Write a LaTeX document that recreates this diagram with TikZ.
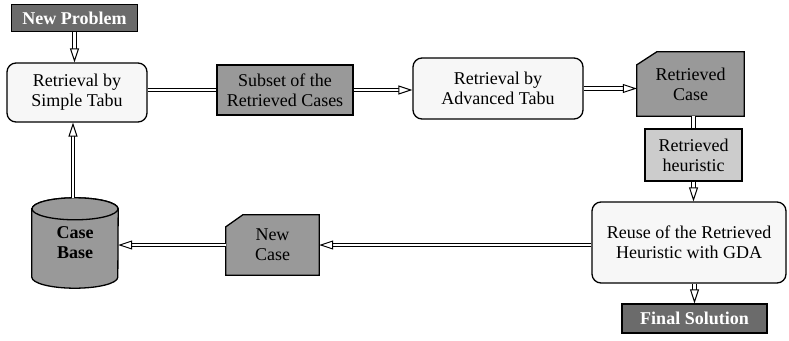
\documentclass[tikz,border=0pt]{standalone}
\usepackage{fontspec}
\setmainfont{Liberation Serif}
\usetikzlibrary{arrows.meta,backgrounds,calc}
\definecolor{darkfill}{gray}{0.42}
\definecolor{midfill}{gray}{0.60}
\definecolor{lightfill}{gray}{0.80}
\definecolor{paleflll}{gray}{0.97}
\tikzset{
  base/.style={draw=black, line width=1.3pt, align=center, inner sep=0pt,
    font=\fontsize{18}{20}\selectfont},
  darkbox/.style={base, fill=darkfill, text=white, font=\fontsize{18}{20}\selectfont\bfseries},
  midbox/.style={base, fill=midfill},
  lightbox/.style={base, fill=lightfill},
  roundbox/.style={base, fill=paleflll, rounded corners=9pt},
  ghost/.style={align=center, inner sep=0pt, font=\fontsize{18}{20}\selectfont},
  cardshape/.style={draw=black, line width=1.3pt, fill=midfill},
  dblarrow/.style={double, double distance=2.2pt, line width=1pt,
    -{Triangle[open, length=14pt, width=9pt, line width=1pt, fill=white]}},
  dblline/.style={double, double distance=2.2pt, line width=1pt},
}
\begin{document}
\begin{tikzpicture}[x=1pt,y=-1pt]
\useasboundingbox (0,0) rectangle (789,340);
% nodes
\node[darkbox, minimum width=126pt, minimum height=27pt] (np) at (74.5,18) {New Problem};
\node[roundbox, minimum width=140pt, minimum height=59pt] (st) at (77,92.5) {Retrieval by\\Simple Tabu};
\node[midbox, minimum width=136pt, minimum height=50pt] (sub) at (285,90) {Subset of the\\Retrieved Cases};
\node[roundbox, minimum width=170pt, minimum height=61pt] (at) at (498,88.5) {Retrieval by\\Advanced Tabu};
\node[ghost, minimum width=107pt, minimum height=64pt] (rc) at (690.5,84) {Retrieved\\Case};
\node[lightbox, minimum width=97pt, minimum height=52pt] (rh) at (693.5,155) {Retrieved\\heuristic};
\node[roundbox, minimum width=194pt, minimum height=81pt] (ru) at (689,242.5) {Reuse of the Retrieved\\Heuristic with GDA};
\node[darkbox, minimum width=145pt, minimum height=29pt] (fs) at (694.5,318.5) {Final Solution};
\node[ghost, minimum width=93pt, minimum height=60pt] (nc) at (272.5,245) {New\\Case};
\node[ghost, minimum width=86pt, minimum height=90pt, font=\fontsize{18}{20}\selectfont\bfseries] (cb) at (75,243) {Case\\Base};
\coordinate (cbtop) at ($(cb.north)+(-2,0)$);
% custom shapes behind text
\begin{scope}[on background layer]
  \filldraw[cardshape] ($(rc.north west)+(20,0)$) -- (rc.north east) -- (rc.south east)
     -- (rc.south west) -- ($(rc.north west)+(0,13)$) -- cycle;
  \filldraw[cardshape] ($(nc.north west)+(17,0)$) -- (nc.north east) -- (nc.south east)
     -- (nc.south west) -- ($(nc.north west)+(0,12)$) -- cycle;
  \filldraw[cardshape] ($(cb.north west)+(0,11)$) -- ($(cb.south west)+(0,-11)$)
     arc[start angle=180, end angle=360, x radius=43pt, y radius=11pt]
     -- ($(cb.north east)+(0,11)$)
     arc[start angle=0, end angle=180, x radius=43pt, y radius=11pt] -- cycle;
  \draw[cardshape] ($(cb.north)+(0,11)$) ellipse[x radius=43pt, y radius=11pt];
\end{scope}
% connectors
\draw[dblarrow] (np.south) -- (np.south |- st.north);
\draw[dblline] (st.east |- sub.west) -- (sub.west);
\draw[dblarrow] (sub.east) -- (sub.east -| at.west);
\draw[dblarrow] (at.east) -- (at.east -| rc.west);
\draw[dblline] (rh.north |- rc.south) -- (rh.north);
\draw[dblarrow] (rh.south) -- (rh.south |- ru.north);
\draw[dblarrow] (ru.south -| fs.north) -- (fs.north);
\draw[dblarrow] (ru.west |- nc.east) -- (nc.east);
\draw[dblarrow] (nc.west) -- (nc.west -| cb.east);
\draw[dblarrow] (cbtop) -- (cbtop |- st.south);
\end{tikzpicture}
\end{document}
